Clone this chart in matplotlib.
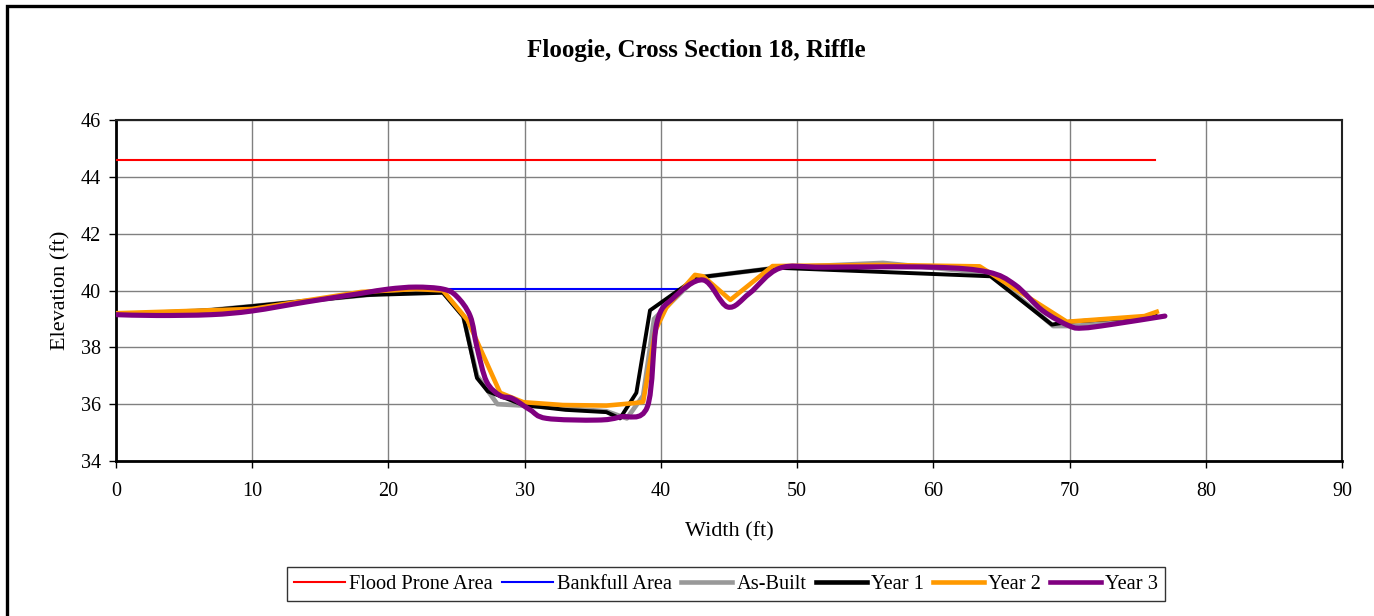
import numpy as np
import matplotlib
matplotlib.use("Agg")
import matplotlib.pyplot as plt
from matplotlib.path import Path
from matplotlib.patches import PathPatch, Rectangle
from matplotlib.lines import Line2D

plt.rcParams["font.family"] = ["Liberation Serif", "DejaVu Serif"]

# ============================================================
# DATA
# ============================================================
flood_x = [0, 76.3]
flood_y = [44.6, 44.6]

bankfull_x = [24.0, 41.4]
bankfull_y = [40.05, 40.05]

asbuilt_x = [0, 6.7, 10, 18.4, 22, 24, 25.5, 26.5, 28.0, 30, 33, 36, 37.5, 38.7, 39.5,
             42.6, 48.5, 56.3, 64.2, 68.8, 70.5, 76.3]
asbuilt_y = [39.15, 39.3, 39.45, 39.84, 40.05, 39.95, 39.1, 37.0, 36.0, 35.95, 35.85, 35.75,
             35.5, 36.3, 39.0, 40.45, 40.8, 40.97, 40.6, 38.75, 38.75, 39.1]

year1_x = [0, 6.7, 10, 18.4, 24, 25.5, 26.5, 27.3, 29.9, 33, 36, 37, 38.2, 39.2, 42.6,
           48.5, 64.2, 68.7, 70, 76.3]
year1_y = [39.15, 39.3, 39.45, 39.84, 39.92, 39.07, 36.92, 36.45, 35.97, 35.8, 35.72, 35.5,
           36.4, 39.3, 40.45, 40.8, 40.5, 38.8, 38.9, 39.1]

year2_x = [0, 10, 18, 22, 24, 25.8, 26.7, 28.2, 29.9, 32.8, 36, 38.1, 38.7, 39.6, 40.4,
           42.5, 43.1, 45.1, 48.2, 56, 63.4, 69.8, 75.5, 76.4]
year2_y = [39.2, 39.35, 39.95, 40.05, 40.0, 38.96, 38.0, 36.4, 36.07, 35.97, 35.95, 36.04,
           36.08, 38.6, 39.4, 40.55, 40.5, 39.67, 40.86, 40.9, 40.85, 38.9, 39.1, 39.25]

year3_x = [0, 3, 7, 10, 14, 18, 20, 22, 24, 25, 26, 26.5, 27.2, 28.2, 29.1, 30.4, 31.6,
           35.3, 37, 39.0, 39.7, 40.9, 43.1, 44.9, 46.5, 48.7, 52, 60, 64, 66, 68, 70,
           71, 73, 77]
year3_y = [39.15, 39.12, 39.15, 39.28, 39.6, 39.9, 40.05, 40.12, 40.05, 39.8, 39.1, 38.0,
           36.8, 36.3, 36.2, 35.8, 35.5, 35.44, 35.55, 35.9, 38.85, 39.73, 40.37, 39.42,
           39.9, 40.78, 40.82, 40.82, 40.65, 40.2, 39.3, 38.75, 38.68, 38.8, 39.1]


def smooth_path(xs, ys, t=1 / 6):
    # Excel-style smoothed line: cubic Bezier segments through the points
    pts = np.column_stack([xs, ys]).astype(float)
    verts = [pts[0]]
    codes = [Path.MOVETO]
    n = len(pts)
    for i in range(n - 1):
        p0 = pts[i - 1] if i > 0 else pts[i]
        p1 = pts[i]
        p2 = pts[i + 1]
        p3 = pts[i + 2] if i + 2 < n else pts[i + 1]
        c1 = p1 + (p2 - p0) * t
        c2 = p2 - (p3 - p1) * t
        verts += [c1, c2, p2]
        codes += [Path.CURVE4] * 3
    return Path(verts, codes)


# ============================================================
# PLOT
# ============================================================
fig = plt.figure(figsize=(13.74, 6.16), dpi=100)
ax = fig.add_axes([116 / 1374, 1 - 461 / 616, (1342 - 116) / 1374, (461 - 120) / 616])

# outer chart border
fig.patches.append(Rectangle((7 / 1374, -0.05), 1.1, 1 - 6 / 616 + 0.05, transform=fig.transFigure,
                             fill=False, edgecolor="black", linewidth=2.4))

ax.plot(flood_x, flood_y, color="#ff0000", lw=1.5, label="Flood Prone Area", zorder=3)
ax.plot(bankfull_x, bankfull_y, color="#0000ff", lw=1.5, label="Bankfull Area", zorder=3)
ax.plot(asbuilt_x, asbuilt_y, color="#999999", lw=3.4, label="As-Built", zorder=4)
ax.plot(year1_x, year1_y, color="black", lw=2.8, label="Year 1", zorder=5)
ax.plot(year2_x, year2_y, color="#ff9900", lw=3.3, label="Year 2", zorder=6)
ax.add_patch(PathPatch(smooth_path(year3_x, year3_y), facecolor="none", edgecolor="#800080",
                       lw=3.7, zorder=7, capstyle="round", joinstyle="round"))

ax.set_xlim(0, 90)
ax.set_ylim(34, 46)
ax.set_xticks(np.arange(0, 91, 10))
ax.set_yticks(np.arange(34, 47, 2))
ax.grid(True, color="#808080", lw=1)
ax.set_axisbelow(True)
ax.tick_params(direction="out", length=5, width=1, labelsize=14.5, colors="black")
ax.tick_params(axis="x", pad=10)
ax.tick_params(axis="y", pad=6)
for side in ["left", "bottom"]:
    ax.spines[side].set_linewidth(2)
for side in ["top", "right"]:
    ax.spines[side].set_linewidth(1.5)
    ax.spines[side].set_color("#222222")

ax.set_xlabel("Width (ft)", fontsize=16, labelpad=15)
ax.set_ylabel("Elevation (ft)", fontsize=16, labelpad=7)
fig.text(696 / 1374, 1 - 50 / 616, "Floogie, Cross Section 18, Riffle",
         ha="center", va="center", fontsize=18, fontweight="bold")

handles = [
    Line2D([], [], color="#ff0000", lw=1.5),
    Line2D([], [], color="#0000ff", lw=1.5),
    Line2D([], [], color="#999999", lw=3.3),
    Line2D([], [], color="black", lw=3.3),
    Line2D([], [], color="#ff9900", lw=3.3),
    Line2D([], [], color="#800080", lw=3.3),
]
labels = ["Flood Prone Area", "Bankfull Area", "As-Built", "Year 1", "Year 2", "Year 3"]
leg = fig.legend(handles, labels, loc="center", bbox_to_anchor=(726 / 1374, 1 - 584 / 616),
                 ncol=6, fontsize=14.7, frameon=True, fancybox=False, edgecolor="black",
                 handlelength=2.5, handletextpad=0.2, columnspacing=0.45, borderpad=0.35)
leg.get_frame().set_linewidth(1)

fig.savefig("out.png", dpi=100)
